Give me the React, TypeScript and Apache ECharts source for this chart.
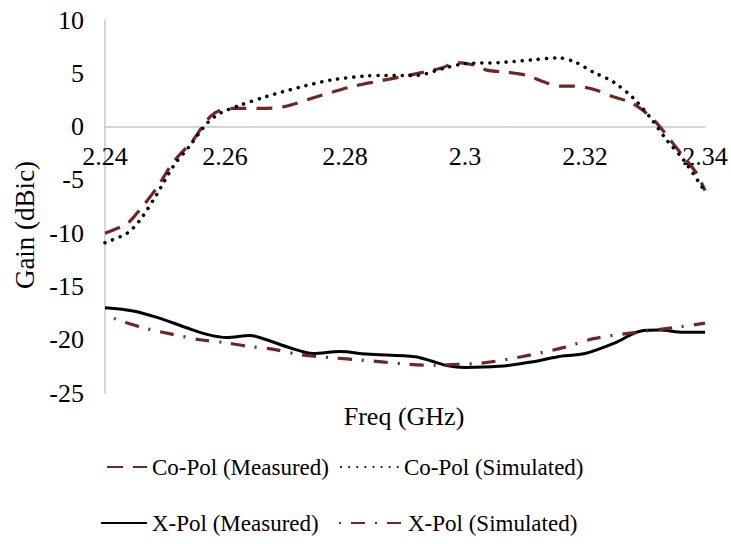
import React, { useEffect, useRef } from "react";
import * as echarts from "echarts";

const FONT = "Liberation Serif, Times New Roman, serif";
const RED = "#6e2727";

const yTicks = { min: -25, max: 10, interval: 5 };
const xTicks = { min: 2.24, max: 2.34, interval: 0.02 };

const coMeasFreq = [2.24, 2.2437, 2.2458, 2.2487, 2.2513, 2.2547, 2.257, 2.2587, 2.2613, 2.2658, 2.2697, 2.2753, 2.2808, 2.285, 2.2906, 2.2961, 2.2986, 2.3013, 2.3036, 2.3069, 2.3103, 2.3131, 2.3158, 2.318, 2.3214, 2.3247, 2.3275, 2.3297, 2.332, 2.3342, 2.3364, 2.3386, 2.34];
const coMeasGain = [-10.0, -9.1, -7.8, -5.7, -3.4, -1.25, 0.6, 1.4, 1.7, 1.7, 1.85, 2.8, 3.7, 4.2, 4.8, 5.5, 6.0, 5.8, 5.3, 5.1, 4.8, 4.2, 3.8, 3.8, 3.5, 2.8, 2.3, 1.5, 0.3, -1.25, -2.8, -4.4, -6.0];

const coSimFreq = [2.24, 2.2437, 2.2458, 2.2487, 2.2513, 2.254, 2.257, 2.2592, 2.2625, 2.2668, 2.2725, 2.278, 2.2836, 2.2867, 2.2917, 2.2967, 2.3, 2.3056, 2.311, 2.3155, 2.3183, 2.3214, 2.3247, 2.328, 2.3308, 2.3336, 2.3364, 2.34];
const coSimGain = [-10.9, -10.0, -8.8, -6.3, -3.8, -1.9, 0.3, 1.25, 2.0, 2.8, 3.7, 4.4, 4.75, 4.8, 4.8, 5.5, 5.9, 6.0, 6.25, 6.45, 6.07, 5.1, 4.2, 2.7, 0.9, -1.25, -3.1, -6.1];

const xMeasFreq = [2.24, 2.2447, 2.2492, 2.2537, 2.257, 2.2603, 2.2642, 2.2669, 2.2708, 2.2747, 2.2792, 2.2836, 2.2917, 2.2944, 2.2972, 2.3, 2.3056, 2.311, 2.3155, 2.32, 2.325, 2.3292, 2.3325, 2.3364, 2.34];
const xMeasGain = [-17.0, -17.3, -18.0, -18.9, -19.5, -19.8, -19.6, -20.0, -20.75, -21.3, -21.1, -21.35, -21.6, -22.0, -22.45, -22.6, -22.5, -22.1, -21.6, -21.3, -20.3, -19.2, -19.1, -19.3, -19.3];

const xSimFreq = [2.2415, 2.2458, 2.2513, 2.2558, 2.2603, 2.2636, 2.2681, 2.2725, 2.278, 2.2825, 2.2906, 2.295, 2.2989, 2.3028, 2.3094, 2.3167, 2.3214, 2.3286, 2.3358, 2.34];
const xSimGain = [-18.0, -18.8, -19.5, -20.0, -20.3, -20.6, -20.9, -21.4, -21.7, -21.9, -22.3, -22.4, -22.3, -22.2, -21.6, -20.7, -19.9, -19.3, -18.8, -18.45];

const seriesNames = ["Co-Pol (Measured)", "Co-Pol (Simulated)", "X-Pol (Measured)", "X-Pol (Simulated)"];

const pairs = (f: number[], g: number[]) => f.map((v, i) => [v, g[i]]);

const GRID = { left: 105, right: 26, top: 20, bottom: 151 };
const PLOT_H = 544 - GRID.top - GRID.bottom;

export default function App() {
  const ref = useRef<HTMLDivElement>(null);
  useEffect(() => {
    if (!ref.current) return;
    const chart = echarts.init(ref.current, null, { renderer: "svg" });
    const legendText = { fontFamily: FONT, fontSize: 23, color: "#000", lineHeight: 24 };
    const zeroOffset = -(PLOT_H * (0 - yTicks.min)) / (yTicks.max - yTicks.min);
    const legendItem = (name: string, left: number, top: number, w: number) => ({
      orient: "horizontal",
      left,
      top,
      padding: 0,
      itemWidth: w,
      itemHeight: 14,
      itemGap: 0,
      data: [name],
      textStyle: legendText,
      itemStyle: { opacity: 0 },
      selectedMode: false,
    });
    chart.setOption({
      animation: false,
      backgroundColor: "#fff",
      textStyle: { fontFamily: FONT },
      grid: GRID,
      xAxis: [
        {
          type: "value",
          min: xTicks.min,
          max: xTicks.max,
          interval: xTicks.interval,
          axisLine: { onZero: true, lineStyle: { color: "#c8c8c8", width: 1.5 } },
          axisTick: { show: false },
          splitLine: { show: false },
          axisLabel: { show: false },
        },
        {
          type: "value",
          position: "bottom",
          offset: zeroOffset,
          min: xTicks.min,
          max: xTicks.max,
          interval: xTicks.interval,
          axisLine: { show: false, onZero: false },
          axisTick: { show: false },
          splitLine: { show: false },
          axisLabel: {
            fontFamily: FONT,
            fontSize: 26,
            color: "#000",
            margin: 17,
            formatter: (v: number) => String(+v.toFixed(2)),
          },
        },
      ],
      yAxis: {
        type: "value",
        min: yTicks.min,
        max: yTicks.max,
        interval: yTicks.interval,
        axisLine: { show: true, onZero: false, lineStyle: { color: "#c8c8c8", width: 1.5 } },
        axisTick: { show: false },
        splitLine: { show: false },
        axisLabel: { fontFamily: FONT, fontSize: 26, color: "#000", margin: 21 },
      },
      graphic: [
        {
          type: "text",
          x: 404,
          y: 416,
          style: { text: "Freq (GHz)", fontFamily: FONT, fontSize: 26, fill: "#000", align: "center", verticalAlign: "middle" },
        },
        {
          type: "text",
          x: 25,
          y: 225,
          rotation: Math.PI / 2,
          style: { text: "Gain (dBic)", fontFamily: FONT, fontSize: 27, fill: "#000", align: "center", verticalAlign: "middle" },
        },
      ],
      legend: [
        legendItem(seriesNames[0], 106, 455, 40),
        legendItem(seriesNames[1], 340, 455, 58),
        legendItem(seriesNames[2], 100, 511, 46),
        legendItem(seriesNames[3], 338, 511, 64),
      ],
      series: [
        {
          name: seriesNames[0],
          type: "line",
          smooth: 0.3,
          symbol: "none",
          data: pairs(coMeasFreq, coMeasGain),
          lineStyle: { color: RED, width: 3.2, type: [16, 10] },
          itemStyle: { color: RED },
          z: 3,
        },
        {
          name: seriesNames[1],
          type: "line",
          smooth: 0.3,
          symbol: "none",
          data: pairs(coSimFreq, coSimGain),
          lineStyle: { color: "#000", width: 3.5, type: [0.1, 8], cap: "round" },
          itemStyle: { color: "#000" },
          z: 4,
        },
        {
          name: seriesNames[2],
          type: "line",
          smooth: 0.3,
          symbol: "none",
          data: pairs(xMeasFreq, xMeasGain),
          lineStyle: { color: "#000", width: 3 },
          itemStyle: { color: "#000" },
          z: 3,
        },
        {
          name: seriesNames[3],
          type: "line",
          smooth: 0.3,
          symbol: "none",
          data: pairs(xSimFreq, xSimGain),
          lineStyle: { color: RED, width: 3.2, type: [14, 10, 2, 10], dashOffset: 24 },
          itemStyle: { color: RED },
          z: 4,
        },
      ],
    });
    return () => chart.dispose();
  }, []);
  return <div ref={ref} style={{ position: "fixed", left: 0, top: 0, width: 731, height: 544 }} />;
}
